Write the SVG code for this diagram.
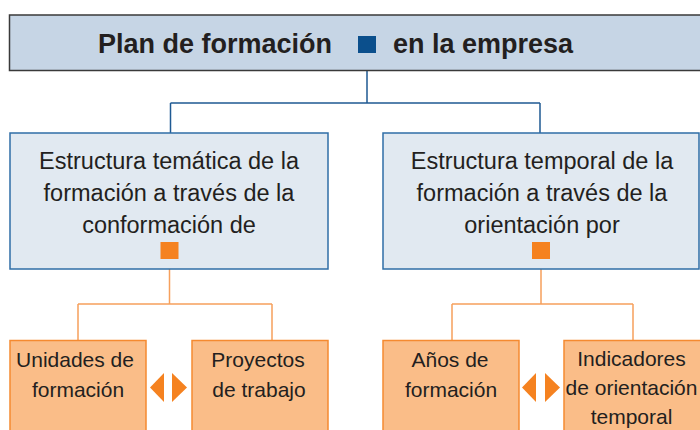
<svg xmlns="http://www.w3.org/2000/svg" width="700" height="430" viewBox="0 0 700 430">
  <style>
    text { font-family: "Liberation Sans", Arial, sans-serif; fill: #231f20; text-anchor: middle; }
    .title { font-size: 27px; font-weight: bold; text-anchor: start; }
    .mid { font-size: 23.5px; }
    .low { font-size: 21px; }
    .topbox { fill: #c6d5e5; stroke: #3a3a3a; stroke-width: 1.5; }
    .midbox { fill: #e1e9f1; stroke: #2f6ea6; stroke-width: 1.5; }
    .lowbox { fill: #fabd88; stroke: #f58a30; stroke-width: 1.5; }
    .blue { fill: none; stroke: #1f5a93; stroke-width: 1.5; }
    .orange { fill: none; stroke: #f6a05c; stroke-width: 1.5; }
    .osq { fill: #f58220; }
    .bsq { fill: #0b4f8c; }
    .tri { fill: #f58220; }
  </style>

  <g id="connectors">
    <path class="blue" d="M367 53 V103 M170.5 103 H540 M170.5 103 V133 M540 103 V133"/>
    <path class="orange" d="M169.5 259 V304 M78 304 H272 M78 304 V340 M272 304 V340"/>
    <path class="orange" d="M541 259 V304 M452 304 H633 M452 304 V340 M633 304 V340"/>
  </g>

  <g id="plan">
    <rect class="topbox" x="9.5" y="15" width="700" height="55.5"/>
    <text class="title" x="98" y="53">Plan de formación</text>
    <rect class="bsq" x="358" y="36" width="18" height="17"/>
    <text class="title" x="393" y="53">en la empresa</text>
  </g>

  <g id="tematica">
    <rect class="midbox" x="10" y="133" width="318" height="136"/>
    <text class="mid" x="169" y="169">Estructura temática de la</text>
    <text class="mid" x="169" y="201">formación a través de la</text>
    <text class="mid" x="169" y="233">conformación de</text>
    <rect class="osq" x="160.5" y="242" width="18" height="17"/>
  </g>

  <g id="temporal">
    <rect class="midbox" x="383" y="133" width="316" height="136"/>
    <text class="mid" x="542" y="169">Estructura temporal de la</text>
    <text class="mid" x="542" y="201">formación a través de la</text>
    <text class="mid" x="542" y="233">orientación por</text>
    <rect class="osq" x="532" y="242" width="18" height="17"/>
  </g>

  <g id="unidades">
    <rect class="lowbox" x="10" y="340.5" width="136" height="100"/>
    <text class="low" x="75" y="367">Unidades de</text>
    <text class="low" x="78" y="397">formación</text>
  </g>

  <g id="proyectos">
    <rect class="lowbox" x="192" y="340.5" width="136" height="100"/>
    <text class="low" x="258" y="367">Proyectos</text>
    <text class="low" x="259" y="397">de trabajo</text>
  </g>

  <g id="anos">
    <rect class="lowbox" x="383" y="340.5" width="136" height="100"/>
    <text class="low" x="450" y="367">Años de</text>
    <text class="low" x="451" y="397">formación</text>
  </g>

  <g id="indicadores">
    <rect class="lowbox" x="564" y="340.5" width="140" height="100"/>
    <text class="low" x="631.5" y="366">Indicadores</text>
    <text class="low" x="631.5" y="395">de orientación</text>
    <text class="low" x="631.5" y="424">temporal</text>
  </g>

  <g id="arrows-left">
    <polygon class="tri" points="164,373 164,402 150,387.5"/>
    <polygon class="tri" points="172,373 172,402 187,387.5"/>
  </g>
  <g id="arrows-right">
    <polygon class="tri" points="536,373 536,402 522,387.5"/>
    <polygon class="tri" points="545,373 545,402 560,387.5"/>
  </g>
</svg>
